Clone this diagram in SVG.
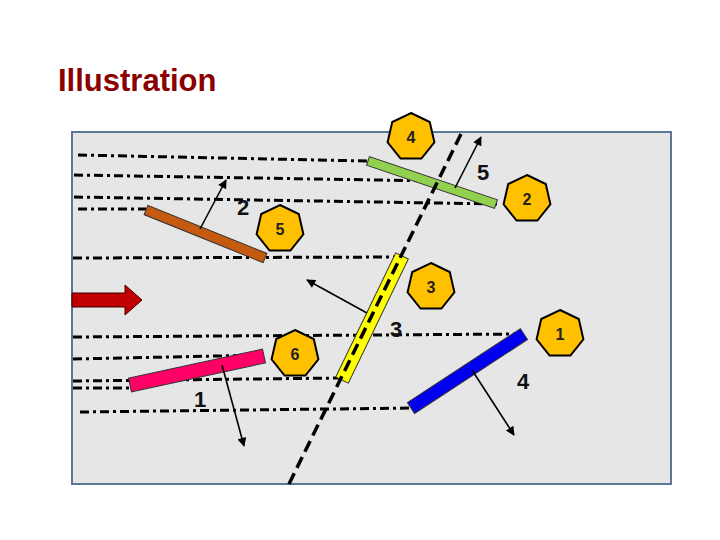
<svg xmlns="http://www.w3.org/2000/svg" xmlns:xlink="http://www.w3.org/1999/xlink" width="720" height="540" viewBox="0 0 720 540">
<style>
.title{font-family:"Liberation Sans",Arial,sans-serif;font-size:31px;font-weight:bold;fill:#8b0000}
.dd{fill:none;stroke:#000;stroke-width:3;stroke-dasharray:9 4 3 4}
.dash{fill:none;stroke:#000;stroke-width:3.5;stroke-dasharray:12 6}
.bar{stroke:#333;stroke-width:1}
.hx{fill:#ffc000;stroke:#000;stroke-width:2}
.ht{font-family:"Liberation Sans",Arial,sans-serif;font-size:16px;font-weight:bold;fill:#222;text-anchor:middle}
.lb{font-family:"Liberation Sans",Arial,sans-serif;font-size:22px;font-weight:bold;fill:#111;text-anchor:middle}
.arr{stroke:#000;stroke-width:1.6;fill:none;marker-end:url(#ah)}
</style>
<defs>
<marker id="ah" viewBox="0 0 10 10" refX="9" refY="5" markerWidth="10" markerHeight="9" orient="auto" markerUnits="userSpaceOnUse">
<path d="M0,0 L10,5 L0,10 Z" fill="#000"/>
</marker>
<polygon id="hept" points="0,-24 18.76,-14.96 23.4,5.34 10.41,21.62 -10.41,21.62 -23.4,5.34 -18.76,-14.96"/>
</defs>
<rect width="720" height="540" fill="#fff"/>
<text class="title" x="58" y="91">Illustration</text>
<rect id="panel" x="72" y="132" width="599" height="352" fill="#e6e6e6" stroke="#5b7897" stroke-width="2"/>
<g id="lines">
<line class="dd" x1="78" y1="155" x2="368" y2="161"/>
<line class="dd" x1="74" y1="175" x2="438" y2="181"/>
<line class="dd" x1="74" y1="197" x2="497" y2="204"/>
<line class="dd" x1="78" y1="209" x2="146" y2="209"/>
<line class="dd" x1="73" y1="258" x2="405" y2="257"/>
<line class="dd" x1="73" y1="337" x2="522" y2="334"/>
<line class="dd" x1="73" y1="359" x2="264" y2="355"/>
<line class="dd" x1="73" y1="381" x2="342" y2="378"/>
<line class="dd" x1="73" y1="388" x2="132" y2="388"/>
<line class="dd" x1="80" y1="412" x2="413" y2="408"/>
</g>
<g id="brown-bar"><rect class="bar" x="0" y="-5" width="128.3" height="10" fill="#c55a11" transform="translate(146,210) rotate(21.97)"/></g>
<g id="green-bar"><rect class="bar" x="0" y="-4.5" width="135" height="9" fill="#92d050" transform="translate(368,161) rotate(18.57)"/></g>
<g id="pink-bar"><rect class="bar" x="0" y="-7" width="137.1" height="14" fill="#ff0066" transform="translate(130,385) rotate(-12.2)"/></g>
<g id="blue-bar"><rect class="bar" x="0" y="-6.5" width="135" height="13" fill="#0000ee" stroke="#000080" transform="translate(411,408) rotate(-33.2)"/></g>
<g id="yellow-bar"><rect class="bar" x="0" y="-7" width="137.8" height="14" fill="#ffff00" stroke="#000" transform="translate(402,256) rotate(115.8)"/></g>
<g id="fault"><line class="dash" x1="461" y1="134" x2="289" y2="484"/></g>
<g id="red-arrow"><polygon points="72,293 125,293 125,285 142,300 125,315 125,307 72,307" fill="#c00000" stroke="#400000" stroke-width="1"/></g>
<g id="connectors">
<line class="arr" x1="200" y1="229" x2="226" y2="180"/>
<line class="arr" x1="455" y1="188" x2="481" y2="137"/>
<line class="arr" x1="367" y1="313" x2="307" y2="280"/>
<line class="arr" x1="222" y1="365" x2="244" y2="446"/>
<line class="arr" x1="472" y1="370" x2="514" y2="435"/>
</g>
<g id="h4"><use xlink:href="#hept" class="hx" x="411" y="137"/><text class="ht" x="411" y="143">4</text></g>
<g id="h2"><use xlink:href="#hept" class="hx" x="527" y="199"/><text class="ht" x="527" y="205">2</text></g>
<g id="h5"><use xlink:href="#hept" class="hx" x="280" y="229"/><text class="ht" x="280" y="235">5</text></g>
<g id="h3"><use xlink:href="#hept" class="hx" x="431" y="287"/><text class="ht" x="431" y="293">3</text></g>
<g id="h1"><use xlink:href="#hept" class="hx" x="560" y="334"/><text class="ht" x="560" y="340">1</text></g>
<g id="h6"><use xlink:href="#hept" class="hx" x="295" y="354"/><text class="ht" x="295" y="360">6</text></g>
<g id="labels">
<text class="lb" x="243" y="215">2</text>
<text class="lb" x="483" y="180">5</text>
<text class="lb" x="396" y="337">3</text>
<text class="lb" x="200" y="407">1</text>
<text class="lb" x="523" y="389">4</text>
</g>
</svg>
